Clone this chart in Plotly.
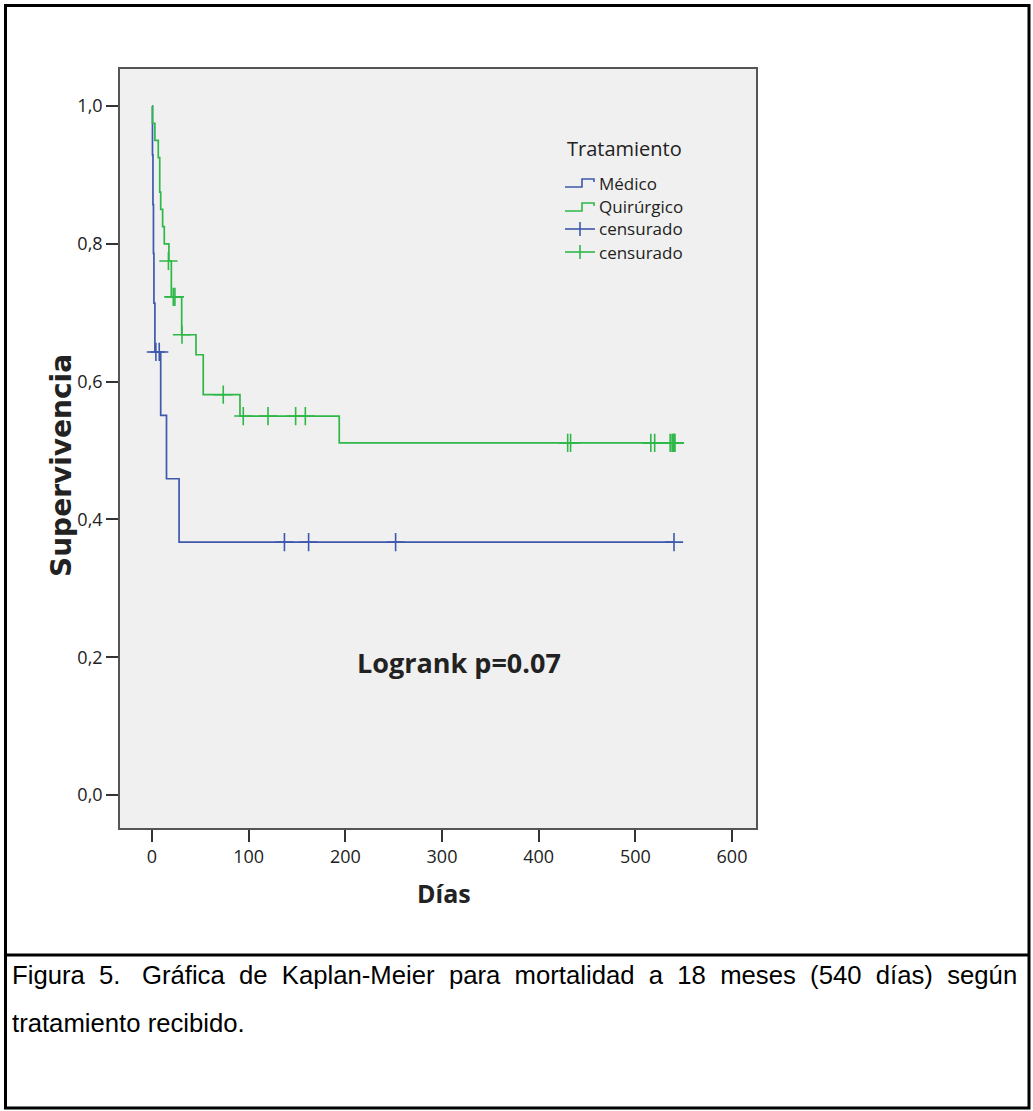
import plotly.graph_objects as go

# ---------------- data ----------------
# Kaplan-Meier step curves: time (days) and survival after each step
medico_t = [0, 0.5, 1, 1.5, 2, 3, 9, 15, 28, 540]
medico_s = [1.0, 0.929, 0.857, 0.786, 0.714, 0.643, 0.551, 0.459, 0.367, 0.367]
quir_t = [0, 0.5, 3, 6.5, 8, 8, 9, 11, 12.7, 17.5, 20, 20, 30.7, 30.7, 45.5, 53, 53, 91, 193.7, 540]
quir_s = [1.0, 0.975, 0.95, 0.925, 0.9, 0.875, 0.85, 0.825, 0.8, 0.775, 0.749, 0.723,
          0.696, 0.668, 0.639, 0.610, 0.581, 0.550, 0.511, 0.511]
# censored observations
medico_cens_t = [4, 7.5, 137, 162, 252, 540]
medico_cens_s = [0.643, 0.643, 0.367, 0.367, 0.367, 0.367]
quir_cens_t = [17, 22, 23.7, 31, 73.7, 94.4, 120, 148.6, 158.6,
               430, 433, 516, 520, 536, 538, 539, 540, 540, 541]
quir_cens_s = [0.775, 0.723, 0.723, 0.668, 0.581, 0.550, 0.550, 0.550, 0.550,
               0.511, 0.511, 0.511, 0.511, 0.511, 0.511, 0.511, 0.511, 0.511, 0.511]

x_ticks = [0, 100, 200, 300, 400, 500, 600]
y_ticks = [0.0, 0.2, 0.4, 0.6, 0.8, 1.0]
y_ticktext = ["0,0", "0,2", "0,4", "0,6", "0,8", "1,0"]
legend_title = "Tratamiento"
legend_labels = ["Médico", "Quirúrgico", "censurado", "censurado"]
x_title = "Días"
y_title = "Supervivencia"
logrank_text = "Logrank p=0.07"
caption_1_words = ["Figura", "5.", "Gráfica", "de", "Kaplan-Meier", "para", "mortalidad", "a", "18",
                   "meses", "(540", "días)", "según"]
caption_2 = "tratamiento recibido."

BLUE = "#3E58AC"
GREEN = "#2EB848"

# ---------------- layout geometry (pixels) ----------------
W, H = 1033, 1111
L, R, T, B = 120, 756, 69, 828  # plot area edges
X0_PX, PX_PER_DAY = 152, 0.9667   # x pixel of day 0, pixels per day
Y1_PX, PX_PER_UNIT = 106, 689     # y pixel of survival 1.0, pixels per unit


def px(x):
    return (x - L) / (R - L)


def py(y):
    return (B - y) / (B - T)


FONT = "Open Sans, DejaVu Sans, sans-serif"

fig = go.Figure()
fig.add_trace(go.Scatter(x=medico_t, y=medico_s, mode="lines", line=dict(color=BLUE, width=1.7, shape="hv"),
                         name=legend_labels[0], showlegend=False))
fig.add_trace(go.Scatter(x=quir_t, y=quir_s, mode="lines", line=dict(color=GREEN, width=1.7, shape="hv"),
                         name=legend_labels[1], showlegend=False))
fig.add_trace(go.Scatter(x=medico_cens_t, y=medico_cens_s, mode="markers",
                         marker=dict(symbol="cross-thin", size=13, line=dict(color=BLUE, width=1.6)),
                         name=legend_labels[2], showlegend=False))
fig.add_trace(go.Scatter(x=quir_cens_t, y=quir_cens_s, mode="markers",
                         marker=dict(symbol="cross-thin", size=13, line=dict(color=GREEN, width=1.6)),
                         name=legend_labels[3], showlegend=False))

shapes = []
annotations = []

# outer border and caption separator
shapes.append(dict(type="rect", xref="paper", yref="paper", x0=px(5.5), x1=px(1029), y0=py(1108), y1=py(5.5),
                   line=dict(color="black", width=3), layer="above"))
shapes.append(dict(type="line", xref="paper", yref="paper", x0=px(5.5), x1=px(1029), y0=py(955), y1=py(955),
                   line=dict(color="black", width=3)))

# legend (drawn manually to mimic SPSS glyphs)
lx0 = 565
annotations.append(dict(text=legend_title, xref="paper", yref="paper", x=px(lx0), y=py(148), xanchor="left",
                        yanchor="middle", showarrow=False, font=dict(family=FONT, size=20, color="#222")))
rows = [183, 207, 229, 252]
colors = [BLUE, GREEN, BLUE, GREEN]
for i, (yy, c, lab) in enumerate(zip(rows, colors, legend_labels)):
    if i < 2:
        path = (f"M {px(lx0)},{py(yy + 4)} L {px(lx0 + 17)},{py(yy + 4)} L {px(lx0 + 17)},{py(yy - 4)} "
                f"L {px(lx0 + 29)},{py(yy - 4)} L {px(lx0 + 29)},{py(yy - 1)}")
        shapes.append(dict(type="path", xref="paper", yref="paper", path=path, line=dict(color=c, width=1.6)))
    else:
        shapes.append(dict(type="line", xref="paper", yref="paper", x0=px(lx0), x1=px(lx0 + 30), y0=py(yy), y1=py(yy),
                           line=dict(color=c, width=1.6)))
        shapes.append(dict(type="line", xref="paper", yref="paper", x0=px(lx0 + 15), x1=px(lx0 + 15),
                           y0=py(yy - 7), y1=py(yy + 7), line=dict(color=c, width=1.6)))
    annotations.append(dict(text=lab, xref="paper", yref="paper", x=px(lx0 + 32), y=py(yy), xanchor="left",
                            yanchor="middle", showarrow=False, font=dict(family=FONT, size=17, color="#222")))

# axis titles
annotations.append(dict(text=f"<b>{x_title}</b>", xref="paper", yref="paper", x=px(444), y=py(893),
                        xanchor="center", yanchor="middle", showarrow=False,
                        font=dict(family=FONT, size=25, color="#222")))
annotations.append(dict(text=f"<b>{y_title}</b>", xref="paper", yref="paper", x=px(62), y=py(466),
                        xanchor="center", yanchor="middle", showarrow=False, textangle=-90,
                        font=dict(family="DejaVu Sans, Open Sans, sans-serif", size=28, color="#222")))
# logrank text
annotations.append(dict(text=f"<b>{logrank_text}</b>", xref="paper", yref="paper", x=px(459), y=py(662),
                        xanchor="center", yanchor="middle", showarrow=False,
                        font=dict(family=FONT, size=27, color="#222")))
# caption (first line is justified in the reference: widen the word gaps)
gaps = [" \u00a0"] * (len(caption_1_words) - 1)
gaps[1] = " \u00a0\u00a0"
caption_1 = caption_1_words[0] + "".join(g + w for g, w in zip(gaps, caption_1_words[1:]))
annotations.append(dict(text=caption_1, xref="paper", yref="paper", x=px(10), y=py(975),
                        xanchor="left", yanchor="middle", showarrow=False,
                        font=dict(family="Liberation Sans, Arial, sans-serif", size=25.7, color="black")))
annotations.append(dict(text=caption_2, xref="paper", yref="paper", x=px(10), y=py(1023),
                        xanchor="left", yanchor="middle", showarrow=False,
                        font=dict(family="Liberation Sans, Arial, sans-serif", size=25.7, color="black")))

fig.update_layout(
    width=W, height=H, autosize=False,
    margin=dict(l=L, r=W - R, t=T, b=H - B, pad=0),
    paper_bgcolor="white", plot_bgcolor="#F0F0F0",
    showlegend=False,
    shapes=shapes, annotations=annotations,
    font=dict(family=FONT, color="#222"),
)
fig.update_xaxes(range=[(L - X0_PX) / PX_PER_DAY, (R - X0_PX) / PX_PER_DAY], tickvals=x_ticks,
                 ticks="outside", ticklen=12, tickwidth=1.5, tickcolor="#333",
                 showline=True, linecolor="#555", linewidth=1.6, mirror=True,
                 showgrid=False, zeroline=False, tickfont=dict(family=FONT, size=18, color="#222"))
fig.update_yaxes(range=[-(B - (Y1_PX + PX_PER_UNIT)) / PX_PER_UNIT, 1 + (Y1_PX - T) / PX_PER_UNIT],
                 tickvals=y_ticks, ticktext=y_ticktext,
                 ticks="outside", ticklen=12, tickwidth=1.5, tickcolor="#333",
                 showline=True, linecolor="#555", linewidth=1.6, mirror=True,
                 showgrid=False, zeroline=False, tickfont=dict(family=FONT, size=18, color="#222"))

fig.write_html("out.html", config={"displayModeBar": False},
               post_script="document.body.style.margin='0px';")
